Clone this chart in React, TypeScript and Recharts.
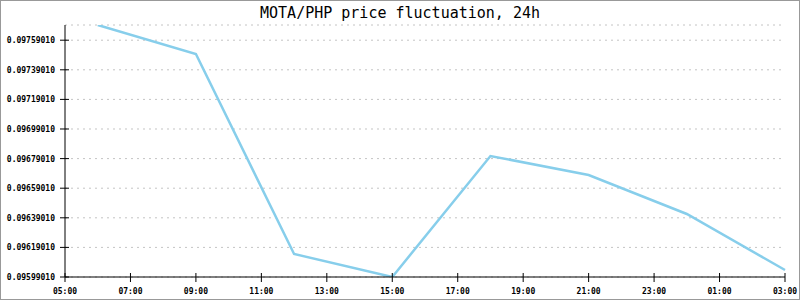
import React from 'react';
import { LineChart, Line, XAxis, YAxis, CartesianGrid } from 'recharts';

// hours since midnight of the first day (27 = 03:00 next day)
const hours = [6, 9, 12, 15, 18, 21, 24, 27];
const prices = [0.0976928, 0.0974969, 0.0961455, 0.0959901, 0.0968077, 0.0966793, 0.0964158, 0.0960374];
const xTicks = [5, 7, 9, 11, 13, 15, 17, 19, 21, 23, 25, 27];
const yTicks = [
  0.0959901, 0.0961901, 0.0963901, 0.0965901, 0.0967901,
  0.0969901, 0.0971901, 0.0973901, 0.0975901,
];
const title = 'MOTA/PHP price fluctuation, 24h';

const data = hours.map((h, i) => ({ h, price: prices[i] }));

const FONT = '"DejaVu Sans Mono", monospace';

const fmtHour = (h: number) => String(h % 24).padStart(2, '0') + ':00';

function YTick(props: any) {
  const { x, y, payload } = props;
  return (
    <g>
      <line x1={x - 5} x2={x + 4} y1={y} y2={y} stroke="#000" />
      <text x={x - 10} y={y} dy={3} textAnchor="end" fontFamily={FONT} fontSize={8} fontWeight="bold" fill="#000">
        {Number(payload.value).toFixed(8)}
      </text>
    </g>
  );
}

function XTick(props: any) {
  const { x, y, payload } = props;
  return (
    <g>
      <line x1={x} x2={x} y1={y - 4} y2={y + 5} stroke="#000" />
      <text x={x} y={y + 17} textAnchor="middle" fontFamily={FONT} fontSize={8} fontWeight="bold" fill="#000">
        {fmtHour(payload.value)}
      </text>
    </g>
  );
}

export default function App() {
  return (
    <div style={{ position: 'absolute', left: 0, top: 0, width: 800, height: 300, background: '#fff' }}>
      <div
        style={{
          position: 'absolute',
          left: 0,
          top: 4,
          width: 800,
          textAlign: 'center',
          fontFamily: FONT,
          fontSize: 15,
          lineHeight: '18px',
          color: '#000',
        }}
      >
        {title}
      </div>
      <LineChart width={800} height={300} data={data} margin={{ top: 25, right: 15, bottom: 0, left: 0 }}>
        <CartesianGrid vertical={false} stroke="#c4c4c4" strokeDasharray="2 4" />
        <XAxis
          dataKey="h"
          type="number"
          domain={[5, 27]}
          ticks={xTicks}
          height={23}
          tickSize={0}
          tickMargin={0}
          axisLine={{ stroke: '#000' }}
          tickLine={false}
          tick={<XTick />}
          interval={0}
        />
        <YAxis
          type="number"
          domain={[0.0959901, 0.0976928]}
          ticks={yTicks}
          width={65}
          tickSize={0}
          tickMargin={0}
          axisLine={{ stroke: '#000' }}
          tickLine={false}
          tick={<YTick />}
          interval={0}
          allowDataOverflow
        />
        <YAxis
          yAxisId="right"
          orientation="right"
          width={0}
          tick={false}
          tickLine={false}
          axisLine={{ stroke: '#000' }}
        />
        <Line
          type="linear"
          dataKey="price"
          stroke="#87ceeb"
          strokeWidth={2.5}
          dot={false}
          isAnimationActive={false}
        />
      </LineChart>
      <div
        style={{
          position: 'absolute',
          left: 0,
          top: 0,
          width: 800,
          height: 300,
          boxSizing: 'border-box',
          border: '1px solid #999',
          pointerEvents: 'none',
        }}
      />
    </div>
  );
}
